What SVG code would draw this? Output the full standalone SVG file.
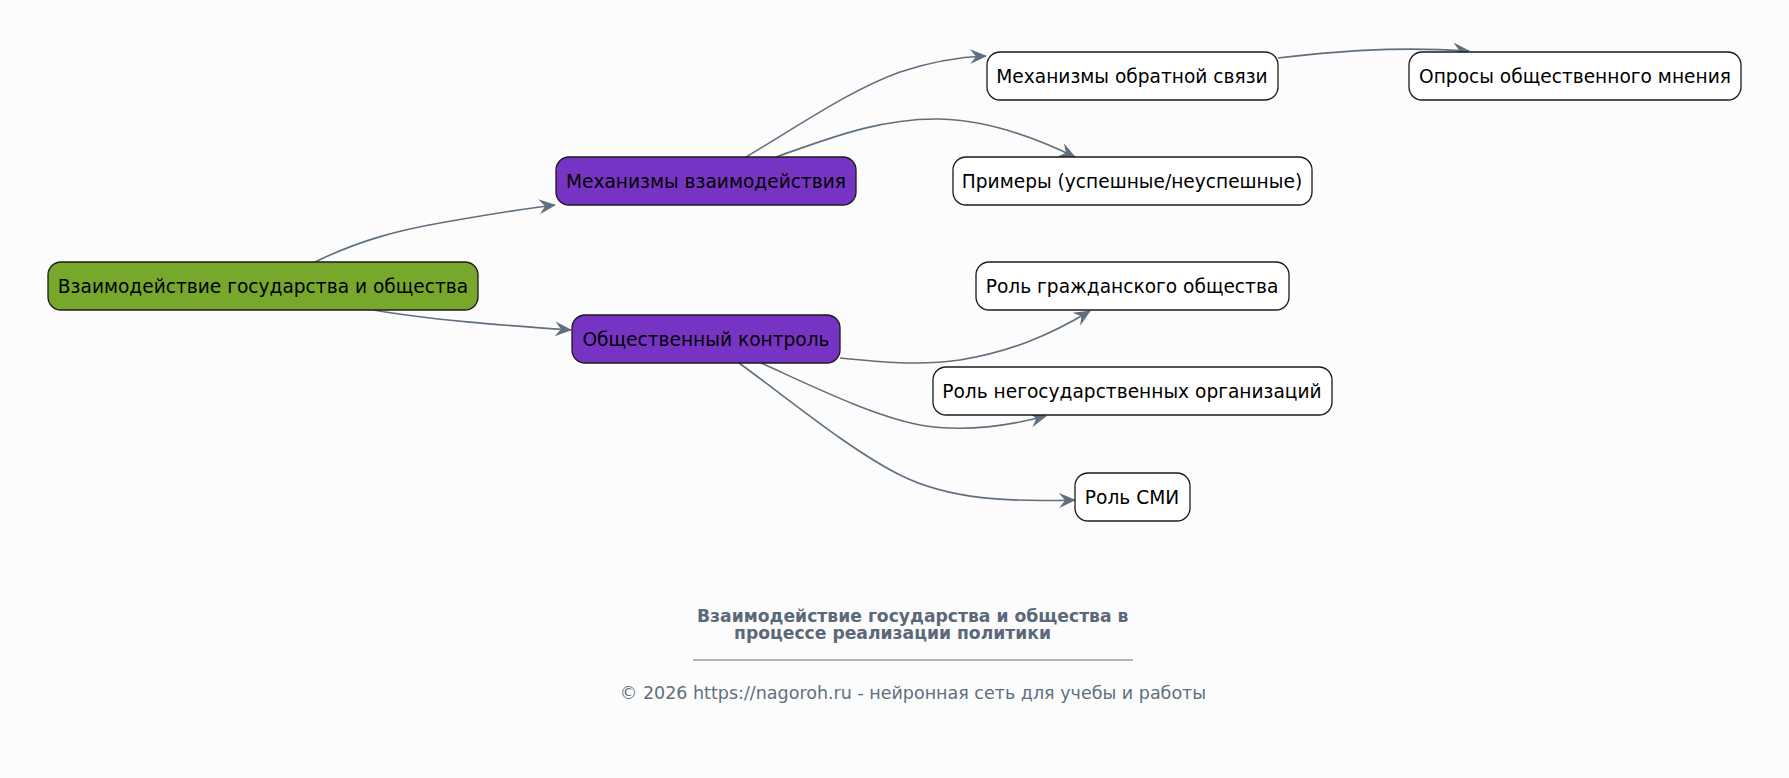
<svg xmlns="http://www.w3.org/2000/svg" width="1789" height="778" viewBox="0 0 1789 778">
<style>
.node rect{stroke:#1a1a1a;stroke-width:1.3}
.root rect{fill:#78a82b}
.mid rect{fill:#7734c4}
.leaf rect{fill:#ffffff}
.node text{font-family:"DejaVu Sans",sans-serif;font-size:18.6px;fill:#000;text-anchor:middle;dominant-baseline:central}
.edges path{fill:none;stroke:#5f6f7e;stroke-width:1.6}
.title{font-family:"DejaVu Sans",sans-serif;font-size:17.2px;font-weight:bold;fill:#5a6878}
.foot{font-family:"DejaVu Sans",sans-serif;font-size:17.5px;fill:#5f6f80;text-anchor:middle}
</style>
<defs>
<marker id="arr" markerWidth="19" markerHeight="16" refX="16" refY="7.5" orient="auto" markerUnits="userSpaceOnUse">
<path d="M0,0 L17,7.5 L0,15 L6,7.5 z" fill="#5f6f7e"/>
</marker>
</defs>
<rect width="1789" height="778" fill="#fcfcfc"/>
<g class="edges">
<path d="M315,262 C360,240 400,230 440,223 C480,216 520,209 555,205" marker-end="url(#arr)"/>
<path d="M374,310 C430,320 500,325 571,330" marker-end="url(#arr)"/>
<path d="M746,157 C800,125 850,90 900,72 C930,62 960,57 986,56" marker-end="url(#arr)"/>
<path d="M776,157 C830,138 880,118 940,119 C990,120 1040,140 1075,157" marker-end="url(#arr)"/>
<path d="M1278,58 C1330,52 1390,46 1469,51" marker-end="url(#arr)"/>
<path d="M840,358 C880,362 920,366 960,360 C1010,352 1050,335 1090,311" marker-end="url(#arr)"/>
<path d="M761,363 C810,385 870,415 920,425 C960,432 1000,428 1046,416" marker-end="url(#arr)"/>
<path d="M739,363 C790,400 850,450 900,475 C950,500 1010,502 1075,500" marker-end="url(#arr)"/>
</g>
<g id="n-root" class="node root"><rect x="48" y="262" width="430" height="48" rx="13"/><text x="263" y="286">Взаимодействие государства и общества</text></g>
<g id="n-mech" class="node mid"><rect x="556" y="157" width="300" height="48" rx="13"/><text x="706" y="181">Механизмы взаимодействия</text></g>
<g id="n-ctrl" class="node mid"><rect x="572" y="315" width="268" height="48" rx="13"/><text x="706" y="339">Общественный контроль</text></g>
<g id="n-feedback" class="node leaf"><rect x="987" y="52" width="291" height="48" rx="13"/><text x="1132" y="76">Механизмы обратной связи</text></g>
<g id="n-examples" class="node leaf"><rect x="953" y="157" width="359" height="48" rx="13"/><text x="1132" y="181">Примеры (успешные/неуспешные)</text></g>
<g id="n-polls" class="node leaf"><rect x="1409" y="52" width="332" height="48" rx="13"/><text x="1575" y="76">Опросы общественного мнения</text></g>
<g id="n-civil" class="node leaf"><rect x="976" y="262" width="313" height="48" rx="13"/><text x="1132" y="286">Роль гражданского общества</text></g>
<g id="n-ngo" class="node leaf"><rect x="933" y="367" width="399" height="48" rx="13"/><text x="1132" y="391">Роль негосударственных организаций</text></g>
<g id="n-media" class="node leaf"><rect x="1075" y="473" width="115" height="48" rx="13"/><text x="1132" y="497">Роль СМИ</text></g>
<g id="caption">
<text class="title" x="697" y="622">Взаимодействие государства и общества в</text>
<text class="title" x="734" y="639">процессе реализации политики</text>
<line x1="693" y1="660" x2="1133" y2="660" stroke="#5f6f80" stroke-width="1"/>
<text class="foot" x="913" y="699">© 2026 https://nagoroh.ru - нейронная сеть для учебы и работы</text>
</g>
</svg>
